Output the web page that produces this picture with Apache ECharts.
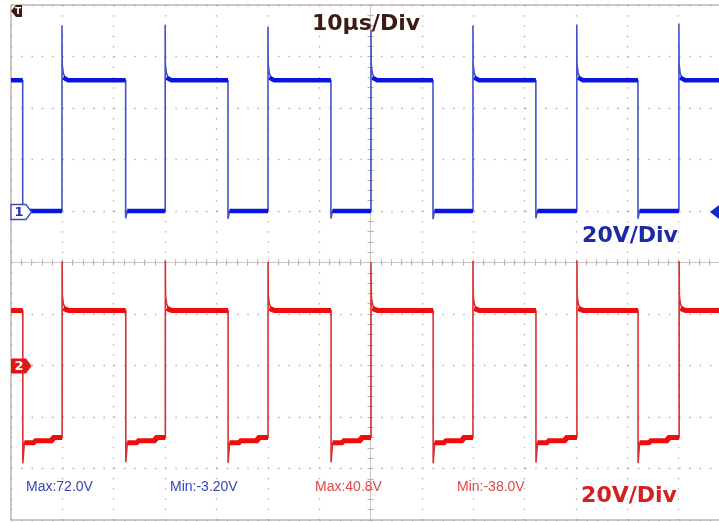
<!DOCTYPE html>
<html>
<head>
<meta charset="utf-8">
<script src="https://cdn.jsdelivr.net/npm/echarts@6/dist/echarts.min.js"></script>
<style>
html,body{margin:0;padding:0;background:#ffffff;}
#chart{width:719px;height:522px;}
</style>
</head>
<body>
<div id="chart"></div>
<script>
// ---- Scope settings ----
const timePerDivUs = 10;          // 10 µs/Div, 14 divisions across
const voltPerDiv = 20;            // 20 V/Div, 10 divisions high
const timeDivisions = 14;
const ch1GroundDiv = 1;           // CH1 ground marker: 1 div above centre
const ch2GroundDiv = -2;          // CH2 ground marker: 2 div below centre

// ---- Channel 1 (blue) ----
const ch1RiseUs  = [9.93, 30.02, 50.04, 70.10, 89.95, 110.17, 130.05];
const ch1FallUs  = [2.28, 22.33, 42.25, 62.30, 82.17, 102.20, 122.08];
const ch1SpikeV  = [72.0, 72.3, 71.5, 70.5, 72.0, 72.4, 72.8];
const ch1RingV   = [57.0, 53.5, 51.8];
const ch1HighV   = 50.8;
const ch1LowV    = [0.0, 0.0, 0.0];
const ch1UnderV  = [-3.2, -2.8, -3.0, -2.9, -3.1, -2.8, -3.0];

// ---- Channel 2 (red) ----
const ch2RiseUs  = [9.95, 30.05, 50.05, 70.10, 89.95, 110.20, 130.10];
const ch2FallUs  = [2.30, 22.35, 42.27, 62.32, 82.20, 102.22, 122.10];
const ch2SpikeV  = [40.5, 40.8, 40.2, 40.0, 40.6, 40.8, 40.5];
const ch2RingV   = [27.0, 24.0, 22.2];
const ch2HighV   = 21.4;
const ch2LowV    = [-30.0, -29.2, -28.0];
const ch2UnderV  = [-38.0, -37.5, -37.8, -37.6, -38.0, -37.7, -37.9];

// ---- Measurement read-outs ----
const measureLabels = ['Max:72.0V', 'Min:-3.20V', 'Max:40.8V', 'Min:-38.0V'];

const tEnd = timePerDivUs * timeDivisions;
const ringOffsetsUs = [0.04, 0.25, 0.6];
const lowStepOffsetsUs = [0.3, 2.3, 5.8];

function buildTrace(rise, fall, spike, ring, high, lows, under) {
  const thin = [[0, high]];
  const thick = [[0, high]];
  for (let i = 0; i < fall.length; i++) {
    const f = fall[i], r = rise[i];
    thin.push([f, high], [f, under[i]]);
    thick.push([f, high], [f, '-']);
    for (let k = 0; k < lows.length; k++) {
      const ts = f + lowStepOffsetsUs[k];
      if (k > 0) { thin.push([ts, lows[k - 1]]); thick.push([ts, lows[k - 1]]); }
      thin.push([ts, lows[k]]); thick.push([ts, lows[k]]);
    }
    thin.push([r, lows[lows.length - 1]], [r, spike[i]]);
    thick.push([r, lows[lows.length - 1]], [r, '-']);
    for (let k = 0; k < ring.length; k++) {
      thin.push([r + ringOffsetsUs[k], ring[k]]);
    }
    thin.push([r + 1.2, high]);
    thick.push([r + ringOffsetsUs[1], ring[ring.length - 1]], [r + 1.2, high]);
  }
  thin.push([tEnd, high]);
  thick.push([tEnd, high]);
  return { thin, thick };
}

const ch1 = buildTrace(ch1RiseUs, ch1FallUs, ch1SpikeV, ch1RingV, ch1HighV, ch1LowV, ch1UnderV);
const ch2 = buildTrace(ch2RiseUs, ch2FallUs, ch2SpikeV, ch2RingV, ch2HighV, ch2LowV, ch2UnderV);

const chart = echarts.init(document.getElementById('chart'), null, { renderer: 'canvas' });

const dotLine = { color: '#a8a8a8', width: 1.3, type: [1.3, 8.98] };
const hiddenLabel = { show: false };
const centreTick = { color: '#bcaeae' };

const option = {
  backgroundColor: '#ffffff',
  animation: false,
  grid: {
    left: 11, top: 5, right: -11, bottom: 2,
    show: true, borderColor: '#a88f82', borderWidth: 1,
    outerBoundsMode: 'none', containLabel: false
  },
  xAxis: [
    { type: 'value', min: 0, max: tEnd, interval: timePerDivUs,
      axisLine: { show: false }, axisTick: { show: false }, axisLabel: hiddenLabel,
      splitLine: { show: true, lineStyle: dotLine } },
    { type: 'value', min: -tEnd / 2, max: tEnd / 2, interval: timePerDivUs,
      axisLine: { show: true, onZero: true, onZeroAxisIndex: 2, lineStyle: { color: '#cfc6c6', width: 1 } },
      axisTick: { show: true, inside: true, length: 3, lineStyle: centreTick },
      minorTick: { show: true, splitNumber: 5, length: 3, lineStyle: centreTick },
      axisLabel: hiddenLabel, splitLine: { show: false } },
    { type: 'value', min: -tEnd / 2, max: tEnd / 2, interval: timePerDivUs,
      axisLine: { show: false, onZero: true, onZeroAxisIndex: 2 },
      axisTick: { show: true, inside: false, length: 3, lineStyle: centreTick },
      minorTick: { show: true, splitNumber: 5, length: 3, lineStyle: centreTick },
      axisLabel: hiddenLabel, splitLine: { show: false } }
  ],
  yAxis: [
    { type: 'value', min: (-5 - ch1GroundDiv) * voltPerDiv, max: (5 - ch1GroundDiv) * voltPerDiv, interval: voltPerDiv,
      axisLine: { show: false }, axisTick: { show: false }, axisLabel: hiddenLabel,
      splitLine: { show: true, lineStyle: dotLine } },
    { type: 'value', min: (-5 - ch2GroundDiv) * voltPerDiv, max: (5 - ch2GroundDiv) * voltPerDiv, interval: voltPerDiv,
      axisLine: { show: false }, axisTick: { show: false }, axisLabel: hiddenLabel, splitLine: { show: false } },
    { type: 'value', min: -5, max: 5, interval: 1, position: 'left',
      axisLine: { show: true, onZero: true, onZeroAxisIndex: 1, lineStyle: { color: '#cfc6c6', width: 1 } },
      axisTick: { show: true, inside: true, length: 3, lineStyle: centreTick },
      minorTick: { show: true, splitNumber: 5, length: 3, lineStyle: centreTick },
      axisLabel: hiddenLabel, splitLine: { show: false } },
    { type: 'value', min: -5, max: 5, interval: 1, position: 'left',
      axisLine: { show: false, onZero: true, onZeroAxisIndex: 1 },
      axisTick: { show: true, inside: false, length: 3, lineStyle: centreTick },
      minorTick: { show: true, splitNumber: 5, length: 3, lineStyle: centreTick },
      axisLabel: hiddenLabel, splitLine: { show: false } }
  ],
  series: [
    { name: 'CH1 edges', type: 'line', xAxisIndex: 0, yAxisIndex: 0, data: ch1.thin,
      showSymbol: false, symbol: 'none', connectNulls: false,
      lineStyle: { color: '#4452c8', width: 1.6 }, z: 3 },
    { name: 'CH1', type: 'line', xAxisIndex: 0, yAxisIndex: 0, data: ch1.thick,
      showSymbol: false, symbol: 'none', connectNulls: false,
      lineStyle: { color: '#0814e0', width: 4.5 }, z: 4 },
    { name: 'CH2 edges', type: 'line', xAxisIndex: 0, yAxisIndex: 1, data: ch2.thin,
      showSymbol: false, symbol: 'none', connectNulls: false,
      lineStyle: { color: '#d83030', width: 1.6 }, z: 3 },
    { name: 'CH2', type: 'line', xAxisIndex: 0, yAxisIndex: 1, data: ch2.thick,
      showSymbol: false, symbol: 'none', connectNulls: false,
      lineStyle: { color: '#f00c0c', width: 5 }, z: 4 }
  ],
  graphic: [
    { type: 'polygon', z: 100, shape: { points: [[11, 11], [16, 5], [22, 5], [22, 17], [16, 17]] },
      style: { fill: '#3b1b12' } },
    { type: 'text', z: 101, x: 18, y: 11.5, style: { text: 'T', fill: '#ffffff', font: 'bold 9px "DejaVu Sans"', align: 'center', verticalAlign: 'middle' } },
    { type: 'polygon', z: 100, shape: { points: [[11, 204.5], [26, 204.5], [31.5, 212], [26, 219.5], [11, 219.5]] },
      style: { fill: '#ffffff', stroke: '#3a48b8', lineWidth: 1.3 } },
    { type: 'text', z: 101, x: 19, y: 212.5, style: { text: '1', fill: '#2030b0', font: 'bold 13px "DejaVu Sans"', align: 'center', verticalAlign: 'middle' } },
    { type: 'polygon', z: 100, shape: { points: [[11, 358.5], [26, 358.5], [31.5, 366], [26, 373.5], [11, 373.5]] },
      style: { fill: '#e21414' } },
    { type: 'text', z: 101, x: 19, y: 366.5, style: { text: '2', fill: '#ffffff', font: 'bold 13px "DejaVu Sans"', align: 'center', verticalAlign: 'middle' } },
    { type: 'polygon', z: 100, shape: { points: [[710, 212], [719, 205], [719, 219]] },
      style: { fill: '#1428d0' } },
    { type: 'text', z: 101, x: 366, y: 24, style: { text: '10µs/Div', fill: '#3b1b12', font: 'bold 22px "DejaVu Sans"', align: 'center', verticalAlign: 'middle' } },
    { type: 'text', z: 101, x: 630, y: 236.5, style: { text: '20V/Div', fill: '#1c2aa8', font: 'bold 22px "DejaVu Sans"', align: 'center', verticalAlign: 'middle' } },
    { type: 'text', z: 101, x: 629, y: 496, style: { text: '20V/Div', fill: '#d42020', font: 'bold 22px "DejaVu Sans"', align: 'center', verticalAlign: 'middle' } },
    { type: 'text', z: 101, x: 26, y: 487, style: { text: measureLabels[0], fill: '#3546b8', font: '14px "Liberation Sans"', align: 'left', verticalAlign: 'middle' } },
    { type: 'text', z: 101, x: 170, y: 487, style: { text: measureLabels[1], fill: '#3546b8', font: '14px "Liberation Sans"', align: 'left', verticalAlign: 'middle' } },
    { type: 'text', z: 101, x: 315, y: 487, style: { text: measureLabels[2], fill: '#e04848', font: '14px "Liberation Sans"', align: 'left', verticalAlign: 'middle' } },
    { type: 'text', z: 101, x: 457, y: 487, style: { text: measureLabels[3], fill: '#e04848', font: '14px "Liberation Sans"', align: 'left', verticalAlign: 'middle' } }
  ]
};

chart.setOption(option);
</script>
</body>
</html>
